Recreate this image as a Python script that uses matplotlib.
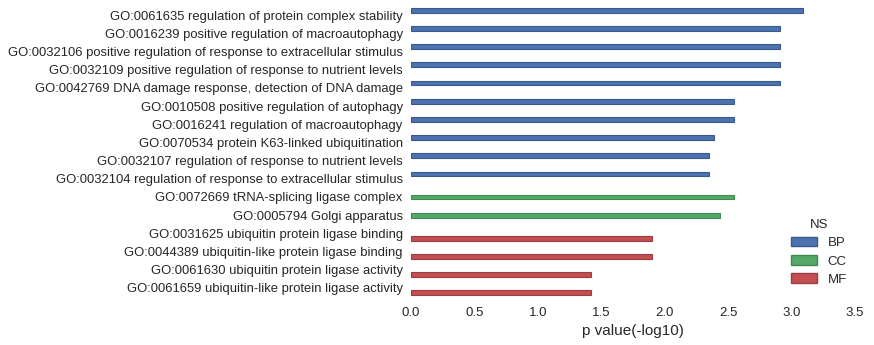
import matplotlib
matplotlib.use("Agg")
import matplotlib.pyplot as plt
from matplotlib.patches import Patch
import numpy as np

terms = [
    "GO:0061635 regulation of protein complex stability",
    "GO:0016239 positive regulation of macroautophagy",
    "GO:0032106 positive regulation of response to extracellular stimulus",
    "GO:0032109 positive regulation of response to nutrient levels",
    "GO:0042769 DNA damage response, detection of DNA damage",
    "GO:0010508 positive regulation of autophagy",
    "GO:0016241 regulation of macroautophagy",
    "GO:0070534 protein K63-linked ubiquitination",
    "GO:0032107 regulation of response to nutrient levels",
    "GO:0032104 regulation of response to extracellular stimulus",
    "GO:0072669 tRNA-splicing ligase complex",
    "GO:0005794 Golgi apparatus",
    "GO:0031625 ubiquitin protein ligase binding",
    "GO:0044389 ubiquitin-like protein ligase binding",
    "GO:0061630 ubiquitin protein ligase activity",
    "GO:0061659 ubiquitin-like protein ligase activity",
]
pvals = [3.09, 2.91, 2.91, 2.91, 2.91, 2.545, 2.545, 2.39, 2.35, 2.35,
         2.545, 2.435, 1.90, 1.90, 1.42, 1.42]
ns = ["BP"] * 10 + ["CC"] * 2 + ["MF"] * 4
ns_order = ["BP", "CC", "MF"]
colors = {"BP": "#4C72B0", "CC": "#55A868", "MF": "#C44E52"}
edges = {"BP": "#3b5a8c", "CC": "#428a54", "MF": "#9e3d41"}

plt.rcParams['font.family'] = ['Liberation Sans', 'DejaVu Sans']
fig = plt.figure(figsize=(8.74, 3.45), dpi=100)
ax = fig.add_axes([411/874, 1 - 297/345, 444/874, 291/345])

width = 0.8 / len(ns_order)
for i, (t, v, n) in enumerate(zip(terms, pvals, ns)):
    k = ns_order.index(n)
    off = -0.4 + width * (k + 0.5)
    ax.barh(i + off, v, height=width, color=colors[n], edgecolor=edges[n], linewidth=0.8)

ax.set_yticks(np.arange(len(terms)))
ax.set_yticklabels(terms, fontsize=9.4, color="#262626")
ax.set_ylim(len(terms) - 0.5, -0.5)
ax.set_xlim(0, 3.5)
ax.set_xticks(np.arange(0, 3.51, 0.5))
ax.set_xticklabels([f"{x:.1f}" for x in np.arange(0, 3.51, 0.5)], fontsize=9.5, color="#262626")
ax.tick_params(axis="y", length=0, pad=6)
ax.tick_params(axis="x", length=0, pad=7)
ax.set_xlabel("p value(-log10)", fontsize=11, color="#262626", labelpad=4)
for s in ax.spines.values():
    s.set_visible(False)

handles = [Patch(facecolor=colors[n], edgecolor=edges[n], label=n) for n in ns_order]
leg = ax.legend(handles=handles, title="NS", loc="lower right", frameon=False,
                fontsize=9.5, title_fontsize=9.5, bbox_to_anchor=(1.009, -0.002),
                labelspacing=0.45)
for txt in leg.get_texts():
    txt.set_color("#262626")
leg.get_title().set_color("#262626")

fig.savefig("out.png", dpi=100)
